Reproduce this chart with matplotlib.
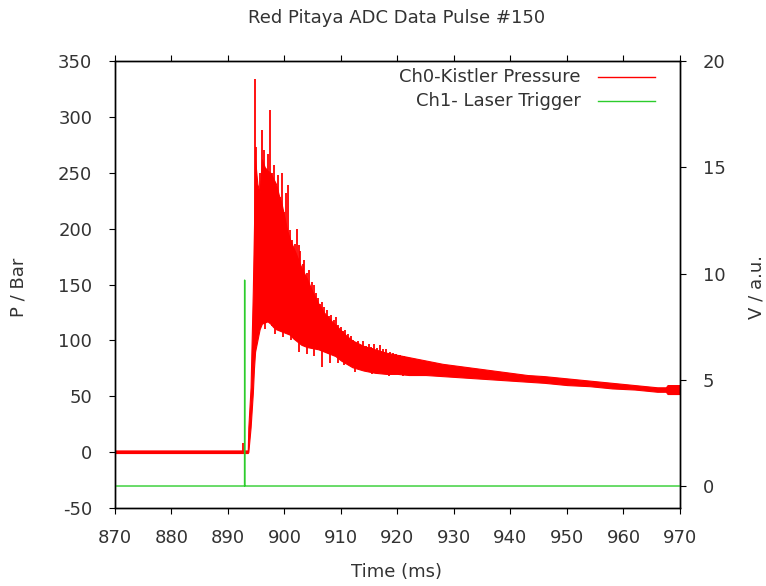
import numpy as np
import matplotlib
matplotlib.use("Agg")
import matplotlib.pyplot as plt
from matplotlib.lines import Line2D

# Ch0 pressure: solid band of the oscillating signal (time in ms, pressure in bar)
t_band = [870.0, 893.5, 893.6, 894.0, 894.4, 894.6, 894.8, 895.2, 895.6, 896.0,
          896.5, 897.0, 897.5, 898.0, 898.5, 899.0, 899.5, 900.0, 900.5, 901.0,
          901.5, 902.0, 903.0, 904.0, 905.0, 906.0, 907.0, 908.0, 909.0, 910.0,
          911.0, 912.0, 914.0, 916.0, 918.0, 920.0, 922.0, 925.0, 928.0, 931.0,
          934.0, 937.0, 940.0, 943.0, 946.0, 950.0, 954.0, 958.0, 962.0, 966.0,
          967.5, 967.8, 970.0]
p_hi = [1.5, 1.5, 22, 58, 145, 200, 262, 240, 232, 262,
        255, 252, 250, 245, 240, 230, 222, 210, 198, 190,
        184, 178, 165, 155, 143, 133, 125, 119, 114, 109,
        104, 100, 95, 92, 89, 87, 85, 82, 79, 77,
        75, 73, 71, 69, 68, 66, 64, 62, 60, 58,
        58, 60, 60]
p_lo = [-0.8, -0.8, 0, 22, 53, 75, 90, 100, 110, 115,
        116, 117, 115, 112, 110, 109, 108, 107, 106, 105,
        102, 100, 96, 94, 93, 92, 90, 88, 86, 82,
        79, 76, 73, 71, 70, 70, 69, 69, 68, 67,
        66, 65, 64, 63, 62, 60, 59, 57, 56, 54,
        54, 52, 52]

# upward spikes above the band
t_up = [892.7, 894.8, 895.0, 895.4, 895.7, 896.1, 896.4, 896.7, 897.0, 897.4,
        897.8, 898.1, 898.5, 898.8, 899.2, 899.5, 899.9, 900.2, 900.6, 901.0,
        901.4, 901.8, 902.2, 902.5, 902.8, 903.2, 903.5, 903.9, 904.3, 904.8,
        905.2, 905.6, 906.0, 906.3, 906.7, 907.0, 907.5, 907.9, 908.3, 908.7,
        909.1, 909.5, 910.0, 910.4, 910.7, 911.3, 911.7, 912.1, 912.6, 913.0,
        913.5, 913.9, 914.5, 915.0, 915.4, 915.8, 916.4, 916.9, 917.5, 918.0,
        918.6, 919.2, 919.8, 920.5, 921.1, 921.7, 922.3, 923.0, 923.7, 924.5]
p_up = [8, 334, 273, 232, 250, 288, 270, 250, 267, 306,
        250, 257, 235, 248, 228, 250, 215, 232, 239, 199,
        190, 186, 200, 185, 180, 168, 172, 160, 163, 152,
        150, 142, 138, 133, 134, 130, 127, 122, 123, 118,
        121, 114, 112, 108, 109, 106, 104, 100, 97, 99,
        96, 99, 95, 97, 94, 97, 93, 96, 92, 92,
        90, 89, 88, 87, 86, 85, 84, 83, 82, 80]

# downward spikes below the band
t_dn = [896.6, 898.3, 899.8, 901.2, 902.5, 904.0, 905.2, 906.7, 908.0, 909.5,
        910.5, 912.5, 915.5, 918.5, 921.0]
p_dn = [110, 106, 103, 100, 90, 88, 86, 76, 80, 80,
        78, 72, 70, 68, 68]

# Ch1 laser trigger (V)
t_trig = [870.0, 892.93, 892.95, 892.97, 970.0]
v_trig = [0.0, 0.0, 9.69, 0.0, 0.0]

x_ticks = [870, 880, 890, 900, 910, 920, 930, 940, 950, 960, 970]
y_ticks = [-50, 0, 50, 100, 150, 200, 250, 300, 350]
y2_ticks = [0, 5, 10, 15, 20]

txt = "#333333"
red = "#ff0000"
green = "#2ccc2c"
fs = 13

plt.rcParams["font.family"] = ["DejaVu Sans"]
plt.rcParams["font.size"] = fs
plt.rcParams["axes.unicode_minus"] = False

fig = plt.figure(figsize=(7.66, 5.86), dpi=100)
ax = fig.add_axes([0.1501, 0.1331, 0.7376, 0.7628])
ax2 = ax.twinx()

# pressure signal
ax.fill_between(t_band, p_lo, p_hi, color=red, lw=0.8, edgecolor=red)
up_base = np.interp(t_up, t_band, p_lo)
ax.vlines(t_up, up_base, p_up, color=red, lw=1.3)
dn_top = np.interp(t_dn, t_band, p_hi)
ax.vlines(t_dn, p_dn, dn_top, color=red, lw=1.3)

# trigger signal
ax2.plot(t_trig, v_trig, color=green, lw=1.0)

ax.set_xlim(870, 970)
ax.set_ylim(-50, 350)
ax2.set_ylim(-1.035, 20)
ax.set_xticks(x_ticks)
ax.set_yticks(y_ticks)
ax2.set_yticks(y2_ticks)

for a in (ax, ax2):
    for s in a.spines.values():
        s.set_linewidth(1.0)
        s.set_color("black")
ax.tick_params(axis="x", direction="out", length=4.3, width=0.8, top=True,
               colors="black", labelcolor=txt, labelsize=fs, pad=11)
ax.tick_params(axis="y", direction="out", length=4.3, width=0.8, right=False,
               colors="black", labelcolor=txt, labelsize=fs, pad=12)
ax2.tick_params(axis="y", direction="out", length=4.3, width=0.8,
                colors="black", labelcolor=txt, labelsize=fs, pad=12)

fig.text(0.518, 0.969, "Red Pitaya ADC Data Pulse #150", ha="center", va="center",
         color=txt, fontsize=fs)
fig.text(0.518, 0.024, "Time (ms)", ha="center", va="center", color=txt, fontsize=fs)
fig.text(0.0235, 0.51, "P / Bar", ha="center", va="center", rotation=90,
         color=txt, fontsize=fs)
fig.text(0.988, 0.51, "V / a.u.", ha="center", va="center", rotation=90,
         color=txt, fontsize=fs)

# legend, gnuplot style (text right-aligned, sample line after)
labels = ["Ch0-Kistler Pressure", "Ch1- Laser Trigger"]
colors = [red, green]
rows = [0.9642, 0.9105]
for lab, c, yy in zip(labels, colors, rows):
    ax.text(0.8248, yy, lab, transform=ax.transAxes, ha="right", va="center",
            color=txt, fontsize=fs)
    ax.add_line(Line2D([0.8549, 0.9558], [yy, yy], transform=ax.transAxes,
                       color=c, lw=1.0))

fig.savefig("out.png", dpi=100)
